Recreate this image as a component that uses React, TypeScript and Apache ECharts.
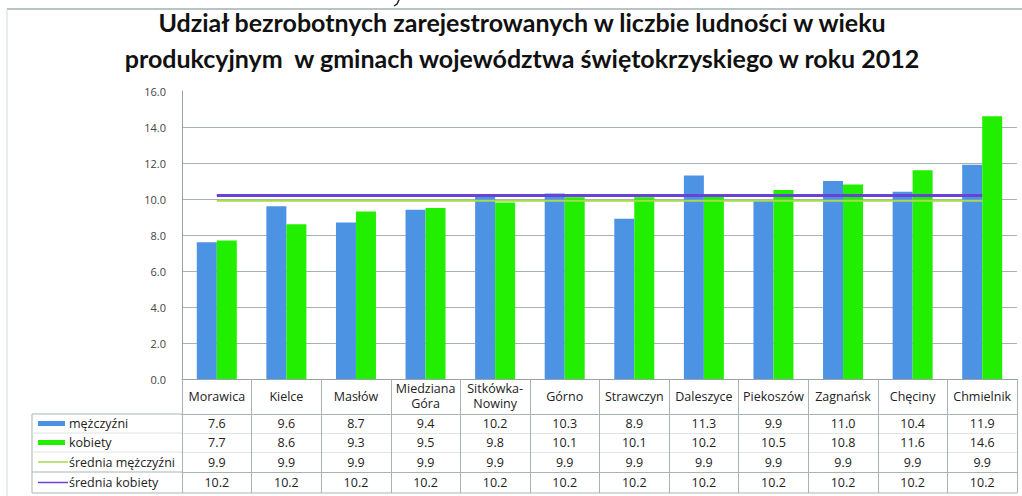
import React, { useEffect, useRef } from "react";
import * as echarts from "echarts";

const TITLE =
  "Udział bezrobotnych zarejestrowanych w liczbie ludności w wieku\nprodukcyjnym  w gminach województwa świętokrzyskiego w roku 2012";

const categories = [
  "Morawica",
  "Kielce",
  "Masłów",
  "Miedziana\nGóra",
  "Sitkówka-\nNowiny",
  "Górno",
  "Strawczyn",
  "Daleszyce",
  "Piekoszów",
  "Zagnańsk",
  "Chęciny",
  "Chmielnik",
];

const seriesNames = ["mężczyźni", "kobiety", "średnia mężczyźni", "średnia kobiety"];

const men = [7.6, 9.6, 8.7, 9.4, 10.2, 10.3, 8.9, 11.3, 9.9, 11.0, 10.4, 11.9];
const women = [7.7, 8.6, 9.3, 9.5, 9.8, 10.1, 10.1, 10.2, 10.5, 10.8, 11.6, 14.6];
const avgMen = [9.9, 9.9, 9.9, 9.9, 9.9, 9.9, 9.9, 9.9, 9.9, 9.9, 9.9, 9.9];
const avgWomen = [10.2, 10.2, 10.2, 10.2, 10.2, 10.2, 10.2, 10.2, 10.2, 10.2, 10.2, 10.2];

const yTicks = { min: 0, max: 16, interval: 2 };

const COLORS = ["#4d93e4", "#22ee00", "#a6dc4c", "#6a42d8"];

export default function App() {
  const ref = useRef<HTMLDivElement>(null);

  useEffect(() => {
    if (!ref.current) return;
    const chart = echarts.init(ref.current, null, { renderer: "svg" });

    const W = 1022;
    const H = 496;
    const gLeft = 182;
    const gRight = 5;
    const gTop = 91;
    const gBottom = 117;
    const axisY = H - gBottom; // 379
    const font = "'Open Sans', sans-serif";
    const tFont = 12.5;
    const tableGray = "#a9b3b3";
    const faintGray = "#dfe4e4";

    const rowOffsets = [35, 54, 73, 93];
    const rowHeights = [19, 19, 20, 21];
    const bottomLineY = axisY + 114;
    const rowData = [men, women, avgMen, avgWomen];
    const rowLineColors = [tableGray, faintGray, faintGray, tableGray];

    const tableAxes = rowData.map((vals, i) => ({
      type: "category",
      gridIndex: 0,
      position: "bottom",
      offset: rowOffsets[i],
      data: vals.map((v) => v.toFixed(1)),
      boundaryGap: true,
      axisLine: { show: true, lineStyle: { color: rowLineColors[i], width: 1 } },
      axisTick: {
        show: true,
        interval: 0,
        length: rowHeights[i],
        lineStyle: { color: tableGray },
      },
      axisLabel: {
        interval: 0,
        margin: rowHeights[i] / 2,
        verticalAlign: "middle",
        fontSize: tFont,
        fontFamily: font,
        color: "#222",
      },
    }));

    // legend column of the data table
    const legendGraphics: any[] = [];
    const colLeft = 32;
    const rowTops = rowOffsets.map((o) => axisY + o);
    legendGraphics.push({
      type: "line",
      shape: { x1: colLeft, y1: rowTops[0], x2: colLeft, y2: bottomLineY },
      style: { stroke: tableGray, lineWidth: 1 },
    });
    rowTops.forEach((t, i) => {
      legendGraphics.push({
        type: "line",
        shape: { x1: colLeft, y1: t, x2: gLeft, y2: t },
        style: { stroke: rowLineColors[i], lineWidth: 1 },
      });
      const cy = t + rowHeights[i] / 2;
      if (i < 2) {
        legendGraphics.push({
          type: "rect",
          shape: { x: 38, y: cy - 2.5, width: 27, height: 5 },
          style: { fill: COLORS[i] },
        });
      } else {
        legendGraphics.push({
          type: "line",
          shape: { x1: 38, y1: cy, x2: 68, y2: cy },
          style: { stroke: COLORS[i], lineWidth: 1.5 },
        });
      }
      legendGraphics.push({
        type: "text",
        x: 69,
        y: cy,
        style: {
          text: seriesNames[i],
          fontSize: tFont,
          fontFamily: font,
          fill: "#222",
          verticalAlign: "middle",
        },
      });
    });
    legendGraphics.push({
      type: "line",
      shape: { x1: colLeft, y1: bottomLineY, x2: W - gRight, y2: bottomLineY },
      style: { stroke: tableGray, lineWidth: 1 },
    });

    chart.setOption({
      animation: false,
      backgroundColor: "#ffffff",
      title: {
        text: TITLE,
        left: 522,
        top: 4,
        padding: 0,
        textAlign: "center",
        textStyle: {
          fontFamily: "Lato, sans-serif",
          fontWeight: "bold",
          fontSize: 25,
          lineHeight: 36,
          color: "#111",
        },
      },
      grid: { left: gLeft, right: gRight, top: gTop, bottom: gBottom },
      xAxis: [
        {
          type: "category",
          data: categories,
          boundaryGap: true,
          axisLine: { show: true, lineStyle: { color: "#9aa3a3" } },
          axisTick: {
            show: true,
            interval: 0,
            length: 35,
            lineStyle: { color: tableGray },
          },
          axisLabel: {
            interval: 0,
            margin: 17,
            verticalAlign: "middle",
            fontSize: tFont,
            lineHeight: 15,
            fontFamily: font,
            color: "#222",
          },
        },
        ...tableAxes,
      ],
      yAxis: {
        type: "value",
        min: yTicks.min,
        max: yTicks.max,
        interval: yTicks.interval,
        axisLine: { show: true, lineStyle: { color: "#9aa3a3" } },
        axisTick: { show: false },
        axisLabel: {
          margin: 16,
          fontSize: 11,
          fontFamily: font,
          color: "#444",
          formatter: (v: number) => v.toFixed(1),
        },
        splitLine: {
          show: true,
          showMaxLine: false,
          lineStyle: { color: "#a8b2b2", width: 1 },
        },
      },
      series: [
        {
          name: seriesNames[0],
          type: "bar",
          data: men,
          barWidth: 20,
          barGap: "0%",
          itemStyle: { color: COLORS[0] },
        },
        {
          name: seriesNames[1],
          type: "bar",
          data: women,
          barWidth: 20,
          barGap: "0%",
          itemStyle: { color: COLORS[1] },
        },
        {
          name: seriesNames[2],
          type: "line",
          data: avgMen,
          symbol: "none",
          z: 5,
          lineStyle: { color: COLORS[2], width: 2 },
        },
        {
          name: seriesNames[3],
          type: "line",
          data: avgWomen,
          symbol: "none",
          z: 6,
          lineStyle: { color: COLORS[3], width: 3 },
        },
      ],
      graphic: [
        {
          type: "line",
          shape: { x1: 7, y1: 9, x2: W, y2: 9 },
          style: { stroke: "#b9c3c3", lineWidth: 2 },
        },
        {
          type: "line",
          shape: { x1: 7, y1: 9, x2: 7, y2: H },
          style: { stroke: "#d3dada", lineWidth: 1 },
        },
        {
          type: "polyline",
          shape: { points: [[399, 0], [397, 4], [394, 6]] },
          style: { stroke: "#222", lineWidth: 1.5, fill: "none" },
        },
        ...legendGraphics,
      ],
    });

    return () => chart.dispose();
  }, []);

  return (
    <div
      ref={ref}
      style={{ position: "absolute", left: 0, top: 0, width: 1022, height: 496 }}
    />
  );
}
